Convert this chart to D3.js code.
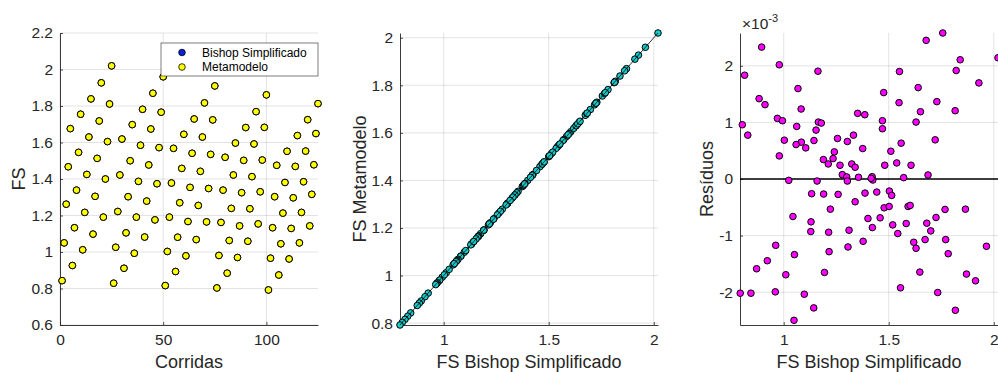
<!DOCTYPE html>
<html>
<head>
<meta charset="utf-8">
<script src="https://cdn.jsdelivr.net/npm/d3@7"></script>
<style>
body { margin: 0; background: #fff; }
svg { font-family: "Liberation Sans", Arial, Helvetica, sans-serif; }
</style>
</head>
<body>
<div id="chart"></div>
<script>
// run number of each FS evaluation
const corridas = d3.range(1, 126);

// FS from Bishop Simplificado, one per run
const fsBishop = [
    0.843, 1.050, 1.262, 1.467, 1.676, 0.926, 1.133, 1.339, 1.546, 1.755,
    1.012, 1.217, 1.425, 1.630, 1.839, 1.098, 1.305, 1.513, 1.718, 1.927,
    1.191, 1.400, 1.605, 1.811, 2.020, 0.829, 1.026, 1.222, 1.422, 1.619,
    0.911, 1.105, 1.303, 1.500, 1.698, 0.993, 1.191, 1.387, 1.585, 1.782,
    1.082, 1.279, 1.477, 1.674, 1.870, 1.176, 1.374, 1.572, 1.766, 1.960,
    0.816, 1.003, 1.191, 1.378, 1.568, 0.893, 1.081, 1.270, 1.458, 1.645,
    0.979, 1.167, 1.354, 1.541, 1.729, 1.068, 1.255, 1.442, 1.630, 1.817,
    1.165, 1.348, 1.535, 1.724, 1.910, 0.803, 0.981, 1.162, 1.339, 1.519,
    0.884, 1.063, 1.239, 1.422, 1.597, 0.970, 1.143, 1.325, 1.502, 1.682,
    1.059, 1.237, 1.413, 1.592, 1.769, 1.154, 1.330, 1.504, 1.683, 1.861,
    0.792, 0.966, 1.133, 1.303, 1.475, 0.874, 1.045, 1.213, 1.381, 1.552,
    0.962, 1.129, 1.297, 1.469, 1.638, 1.050, 1.217, 1.385, 1.553, 1.725,
    1.143, 1.316, 1.478, 1.649, 1.813
];

// FS from the metamodel (differences are below one pixel at this scale)
const fsMetamodelo = [
    0.843, 1.050, 1.262, 1.467, 1.676, 0.926, 1.133, 1.339, 1.546, 1.755,
    1.012, 1.217, 1.425, 1.630, 1.839, 1.098, 1.305, 1.513, 1.718, 1.927,
    1.191, 1.400, 1.605, 1.811, 2.020, 0.829, 1.026, 1.222, 1.422, 1.619,
    0.911, 1.105, 1.303, 1.500, 1.698, 0.993, 1.191, 1.387, 1.585, 1.782,
    1.082, 1.279, 1.477, 1.674, 1.870, 1.176, 1.374, 1.572, 1.766, 1.960,
    0.816, 1.003, 1.191, 1.378, 1.568, 0.893, 1.081, 1.270, 1.458, 1.645,
    0.979, 1.167, 1.354, 1.541, 1.729, 1.068, 1.255, 1.442, 1.630, 1.817,
    1.165, 1.348, 1.535, 1.724, 1.910, 0.803, 0.981, 1.162, 1.339, 1.519,
    0.884, 1.063, 1.239, 1.422, 1.597, 0.970, 1.143, 1.325, 1.502, 1.682,
    1.059, 1.237, 1.413, 1.592, 1.769, 1.154, 1.330, 1.504, 1.683, 1.861,
    0.792, 0.966, 1.133, 1.303, 1.475, 0.874, 1.045, 1.213, 1.381, 1.552,
    0.962, 1.129, 1.297, 1.469, 1.638, 1.050, 1.217, 1.385, 1.553, 1.725,
    1.143, 1.316, 1.478, 1.649, 1.813
];

// residual plot: FS Bishop (x) and residual in units of 1e-3 (y)
const residuoFS = [
    0.895, 0.979, 1.163, 0.814, 1.068, 0.883, 0.911, 1.083, 0.970, 0.994,
    0.803, 1.165, 1.179, 1.062, 1.154, 0.829, 1.003, 1.144, 1.084, 1.059,
    1.105, 0.979, 1.189, 1.212, 1.024, 1.159, 1.133, 1.190, 1.222, 1.044,
    1.130, 1.129, 1.214, 0.962, 1.051, 1.216, 0.922, 0.871, 1.010, 1.194,
    0.793, 0.844, 0.960, 1.098, 1.143, 1.049,
    1.256, 1.241, 1.235, 1.268, 1.279, 1.300, 1.303, 1.259, 1.352, 1.386,
    1.303, 1.332, 1.324, 1.340, 1.356, 1.376, 1.421, 1.424, 1.416, 1.340,
    1.387, 1.443, 1.401, 1.422, 1.459, 1.311, 1.306, 1.378, 1.476, 1.551,
    1.549, 1.470, 1.470, 1.559, 1.510, 1.538, 1.481, 1.606, 1.571, 1.503,
    1.514, 1.478, 1.502, 1.592, 1.602, 1.519, 1.543, 1.583, 1.556,
    1.757, 1.678, 2.020, 1.840, 1.821, 1.640, 1.929, 1.729, 1.816, 1.651,
    1.630, 1.721, 1.687, 1.681, 1.725, 1.768, 1.865, 1.700, 1.673, 1.619,
    1.630, 1.771, 1.783, 1.965, 1.648, 1.870, 1.913, 1.733, 1.817
];
const residuoVal = [
    2.331, 2.018, 1.905, 1.834, 1.598, 1.420, 1.314, 1.237, 1.071, 1.030,
    0.959, 1.006, 0.988, 0.929, 0.864, 0.775, 0.686, 0.680, 0.651, 0.609,
    0.550, 0.408, 0.343, 0.266, -0.024, -0.036, -0.260, -0.266, -0.533, -0.663,
    -0.757, -0.929, -0.941, -1.172, -1.337, -1.284, -1.444, -1.586, -1.692, -1.651,
    -2.018, -2.018, -1.994, -2.036, -2.278, -2.497,
    0.716, 0.479, 0.361, 0.243, 0.077, 0.036, -0.036, -0.272, 1.160, 1.136,
    0.663, 0.775, 0.266, 0.207, 0.030, 0.538, 0.041, -0.018, 0.012, -0.402,
    -0.249, -0.231, -0.698, -0.858, -0.686, -0.905, -1.201, -1.101, 1.527, 1.899,
    1.349, 1.030, 0.888, 0.633, 0.491, 0.284, 0.243, 0.243, 0.024, -0.213,
    -0.290, -0.509, -0.485, -0.485, -0.467, -0.811, -0.964, -0.787, -1.923,
    2.580, 2.450, 2.142, 2.107, 1.917, 1.615, 1.698, 1.367, 1.207, 1.189,
    1.006, 0.692, 0.071, -0.781, -0.680, -0.538, -0.533, -0.917, -1.071, -1.118,
    -1.225, -1.071, -1.320, -1.189, -1.645, -1.680, -1.799, -2.006, -2.320
];

const corridasTicks = [0, 50, 100];
const fsTicksLeft = [0.6, 0.8, 1, 1.2, 1.4, 1.6, 1.8, 2, 2.2];
const fsTicks = [1, 1.5, 2];
const metaTicks = [0.8, 1, 1.2, 1.4, 1.6, 1.8, 2];
const resTicks = [-2, -1, 0, 1, 2];

const legendNames = ['Bishop Simplificado', 'Metamodelo'];

const width = 998, height = 372;
const plotTop = 33, plotBottom = 325;
const axisColor = '#262626';

const svg = d3.select('#chart')
    .append('svg')
    .attr('width', width)
    .attr('height', height);

function makePanel(left, right)
{
    const g = svg.append('g').attr('transform', `translate(${left},${plotTop})`);
    return {g: g, w: right - left, h: plotBottom - plotTop};
}

function drawAxes(p, x, y, xTicks, yTicks)
{
    // grid lines
    p.g.append('g').selectAll('line').data(xTicks).join('line')
        .attr('x1', d => x(d)).attr('x2', d => x(d))
        .attr('y1', 0).attr('y2', p.h)
        .attr('stroke', axisColor).attr('stroke-opacity', 0.13);
    p.g.append('g').selectAll('line').data(yTicks).join('line')
        .attr('x1', 0).attr('x2', p.w)
        .attr('y1', d => y(d)).attr('y2', d => y(d))
        .attr('stroke', axisColor).attr('stroke-opacity', 0.13);

    const styleAxis = g => {
        g.attr('font-family', null).attr('font-size', 15.5);
        g.select('.domain').attr('stroke', axisColor).attr('stroke-width', 0.9);
        g.selectAll('.tick line').attr('stroke', axisColor).attr('stroke-width', 0.8);
        g.selectAll('.tick text').attr('fill', axisColor);
    };

    p.g.append('g')
        .attr('transform', `translate(0,${p.h})`)
        .call(d3.axisBottom(x).tickValues(xTicks).tickSizeInner(-3).tickSizeOuter(0)
            .tickPadding(9).tickFormat(d => String(d)))
        .call(styleAxis);

    p.g.append('g')
        .call(d3.axisLeft(y).tickValues(yTicks).tickSizeInner(-3).tickSizeOuter(0)
            .tickPadding(7).tickFormat(d => String(d)))
        .call(styleAxis);
}

function axisLabels(p, xLabel, yLabel, yLabelX)
{
    p.g.append('text')
        .attr('x', p.w / 2).attr('y', 367.5 - plotTop)
        .attr('text-anchor', 'middle')
        .attr('font-size', 18).attr('fill', axisColor)
        .text(xLabel);
    p.g.append('text')
        .attr('transform', `translate(${yLabelX},${p.h / 2}) rotate(-90)`)
        .attr('text-anchor', 'middle')
        .attr('font-size', 18).attr('fill', axisColor)
        .text(yLabel);
}

function dots(g, xs, ys, x, y, fill)
{
    g.append('g').selectAll('circle').data(xs).join('circle')
        .attr('cx', (d, i) => x(d))
        .attr('cy', (d, i) => y(ys[i]))
        .attr('r', 3.3)
        .attr('fill', fill)
        .attr('stroke', '#000')
        .attr('stroke-width', 1);
}

// ---- FS per run
function drawPlotRuns()
{
    const p = makePanel(60, 318);
    const x = d3.scaleLinear().domain([0, 125]).range([0, p.w]);
    const y = d3.scaleLinear().domain([0.6, 2.2]).range([p.h, 0]);
    drawAxes(p, x, y, corridasTicks, fsTicksLeft);

    dots(p.g, corridas, fsBishop, x, y, '#0a1fd8');
    dots(p.g, corridas, fsMetamodelo, x, y, '#ffff00');

    axisLabels(p, 'Corridas', 'FS', 25 - 60);

    // legend
    const lg = p.g.append('g').attr('transform', `translate(${161 - 60},${43 - plotTop})`);
    lg.append('rect')
        .attr('width', 157).attr('height', 33)
        .attr('fill', '#fff').attr('stroke', axisColor).attr('stroke-width', 0.6);
    const colors = ['#0a1fd8', '#ffff00'];
    legendNames.forEach((name, i) => {
        lg.append('circle')
            .attr('cx', 21).attr('cy', 9.5 + i * 14.5).attr('r', 3.3)
            .attr('fill', colors[i]).attr('stroke', '#000').attr('stroke-width', 0.8);
        lg.append('text')
            .attr('x', 41).attr('y', 13.7 + i * 14.5)
            .attr('font-size', 12).attr('fill', '#000')
            .text(name);
    });
}

// ---- Metamodel vs Bishop
function drawPlotCompare()
{
    const p = makePanel(400, 658);
    const x = d3.scaleLinear().domain(d3.extent(fsBishop)).range([0, p.w]);
    const y = d3.scaleLinear().domain(d3.extent(fsMetamodelo)).range([p.h, 0]);
    drawAxes(p, x, y, fsTicks, metaTicks);

    dots(p.g, fsBishop, fsMetamodelo, x, y, '#17caca');

    const pairs = d3.sort(d3.zip(fsBishop, fsMetamodelo), d => d[0]);
    p.g.append('path')
        .datum(pairs)
        .attr('fill', 'none')
        .attr('stroke', '#000')
        .attr('stroke-width', 0.8)
        .attr('d', d3.line().x(d => x(d[0])).y(d => y(d[1])));

    axisLabels(p, 'FS Bishop Simplificado', 'FS Metamodelo', 366 - 400);
}

// ---- residuals
function drawPlotResiduals()
{
    const p = makePanel(740, 998);
    const x = d3.scaleLinear().domain(d3.extent(fsBishop)).range([0, p.w]);
    const m = d3.max(residuoVal, Math.abs);
    const y = d3.scaleLinear().domain([-m, m]).range([p.h, 0]);
    drawAxes(p, x, y, fsTicks, resTicks);

    p.g.append('line')
        .attr('x1', 0).attr('x2', p.w)
        .attr('y1', y(0)).attr('y2', y(0))
        .attr('stroke', '#000').attr('stroke-width', 1.3);

    dots(p.g, residuoFS, residuoVal, x, y, '#ff00ff');

    axisLabels(p, 'FS Bishop Simplificado', 'Resíduos', 713 - 740);

    // exponent label
    const ex = p.g.append('text')
        .attr('x', 2).attr('y', 29 - plotTop)
        .attr('font-size', 15.5).attr('fill', axisColor);
    ex.append('tspan').text('\u00d710');
    ex.append('tspan').attr('dy', -7).attr('font-size', 11).text('-3');
}

drawPlotRuns();
drawPlotCompare();
drawPlotResiduals();
</script>
</body>
</html>
